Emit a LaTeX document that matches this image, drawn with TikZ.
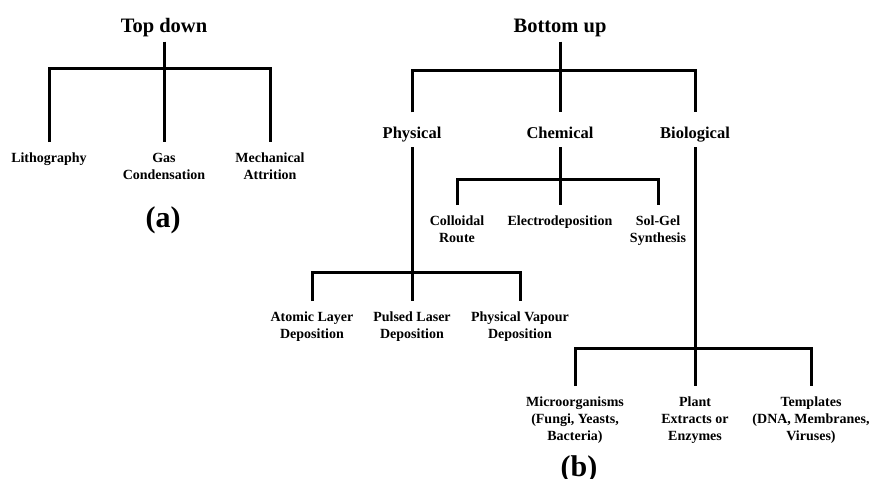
\documentclass[tikz,border=0pt]{standalone}
\usepackage{fontspec}
\setmainfont{Liberation Serif}
\begin{document}
\begin{tikzpicture}[x=1pt,y=-1pt,
link/.style={line width=3pt},
title/.style={font=\fontsize{20.5}{24}\selectfont\bfseries,anchor=base,inner sep=5pt},
branch/.style={font=\fontsize{16.5}{20}\selectfont\bfseries,anchor=base,inner ysep=5pt,text depth=4pt},
leaf/.style={font=\fontsize{14}{17}\selectfont\bfseries,align=center,anchor=north,inner ysep=11pt},
panel/.style={font=\fontsize{30}{34}\selectfont\bfseries,anchor=base}]
\useasboundingbox (0,0) rectangle (870,479);
\node[title] (td) at (164,32) {Top down};
\node[leaf] (lith) at (49,142) {Lithography};
\node[leaf] (gas) at (164,142) {Gas\\Condensation};
\node[leaf] (mech) at (270,142) {Mechanical\\Attrition};
\coordinate (tdbar) at (164,68);
\draw[link] (td.south) -- (gas.north);
\draw[link] (lith.north) |- (tdbar) -| (mech.north);
\node[panel] (pa) at (163,227) {(a)};

\node[title] (bu) at (560,32) {Bottom up};
\node[branch] (phys) at (412,138) {Physical};
\node[branch] (chem) at (560,138) {Chemical};
\node[branch] (bio) at (695,138) {Biological};
\coordinate (bubar) at (560,70);
\draw[link,shorten >=9pt] (bu.south) -- (chem.north);
\draw[link,shorten <=9pt,shorten >=9pt] (phys.north) |- (bubar) -| (bio.north);

\node[leaf] (coll) at (457,205) {Colloidal\\Route};
\node[leaf] (elec) at (560,205) {Electrodeposition};
\node[leaf] (sol) at (658,205) {Sol-Gel\\Synthesis};
\coordinate (chembar) at (560,179);
\draw[link] (chem.south) -- (elec.north);
\draw[link] (coll.north) |- (chembar) -| (sol.north);

\node[leaf] (ald) at (312,301) {Atomic Layer\\Deposition};
\node[leaf] (pld) at (412,301) {Pulsed Laser\\Deposition};
\node[leaf] (pvd) at (520,301) {Physical Vapour\\Deposition};
\coordinate (physbar) at (412,272);
\draw[link] (phys.south) -- (pld.north);
\draw[link] (ald.north) |- (physbar) -| (pvd.north);

\node[leaf] (micro) at (575,386) {Microorganisms\\(Fungi, Yeasts,\\Bacteria)};
\node[leaf] (plant) at (695,386) {Plant\\Extracts or\\Enzymes};
\node[leaf] (tmpl) at (811,386) {Templates\\(DNA, Membranes,\\Viruses)};
\coordinate (biobar) at (695,348);
\draw[link] (bio.south) -- (plant.north);
\draw[link] (micro.north) |- (biobar) -| (tmpl.north);
\node[panel] (pb) at (579,476) {(b)};
\end{tikzpicture}
\end{document}
